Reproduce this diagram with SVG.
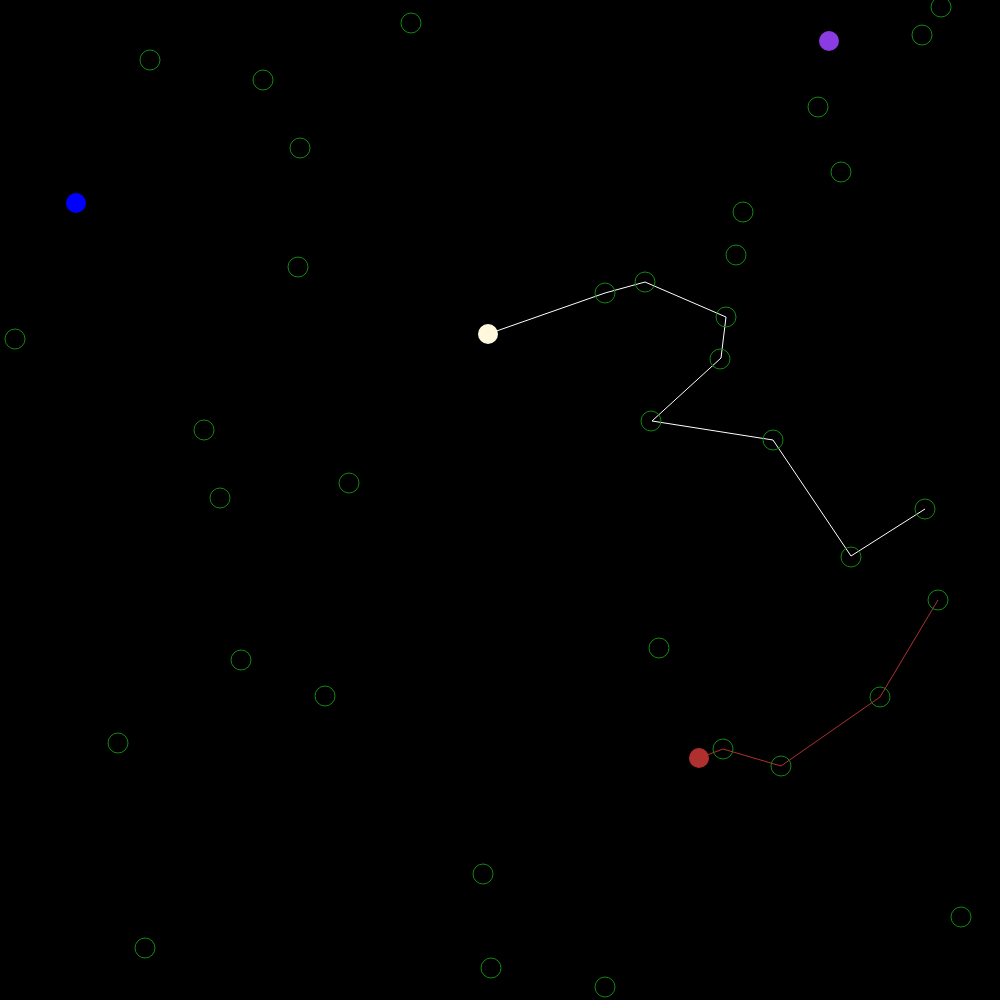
<svg xmlns="http://www.w3.org/2000/svg" width="1000" height="1000" viewBox="0 0 1000 1000">
<style>
.n{fill:none;stroke:#118A11;stroke-width:1}
.w{fill:none;stroke:#FFFFFF;stroke-width:1}
.r{fill:none;stroke:#B03030;stroke-width:1}
</style>
<rect x="0" y="0" width="1000" height="1000" fill="#000000"/>
<g id="connectors">
<polyline class="w" points="488,334 605,293 645,282 726,317 721,358 652,421 773,440 851,556 925,509"/>
<polyline class="r" points="699,758 723,749 781,766 880,697 938,600"/>
</g>
<g id="nodes">
<circle class="n" cx="411" cy="23" r="10"/>
<circle class="n" cx="150" cy="60" r="10"/>
<circle class="n" cx="263" cy="80" r="10"/>
<circle class="n" cx="300" cy="148" r="10"/>
<circle class="n" cx="298" cy="267" r="10"/>
<circle class="n" cx="15" cy="339" r="10"/>
<circle class="n" cx="204" cy="430" r="10"/>
<circle class="n" cx="220" cy="498" r="10"/>
<circle class="n" cx="349" cy="483" r="10"/>
<circle class="n" cx="241" cy="660" r="10"/>
<circle class="n" cx="325" cy="696" r="10"/>
<circle class="n" cx="118" cy="743" r="10"/>
<circle class="n" cx="145" cy="948" r="10"/>
<circle class="n" cx="483" cy="874" r="10"/>
<circle class="n" cx="491" cy="968" r="10"/>
<circle class="n" cx="605" cy="987" r="10"/>
<circle class="n" cx="659" cy="648" r="10"/>
<circle class="n" cx="961" cy="917" r="10"/>
<circle class="n" cx="941" cy="7" r="10"/>
<circle class="n" cx="922" cy="35" r="10"/>
<circle class="n" cx="818" cy="107" r="10"/>
<circle class="n" cx="841" cy="172" r="10"/>
<circle class="n" cx="743" cy="212" r="10"/>
<circle class="n" cx="736" cy="255" r="10"/>
<circle class="n" cx="605" cy="293" r="10"/>
<circle class="n" cx="645" cy="282" r="10"/>
<circle class="n" cx="726" cy="317" r="10"/>
<circle class="n" cx="720" cy="359" r="10"/>
<circle class="n" cx="651" cy="421" r="10"/>
<circle class="n" cx="773" cy="440" r="10"/>
<circle class="n" cx="851" cy="557" r="10"/>
<circle class="n" cx="925" cy="509" r="10"/>
<circle class="n" cx="723" cy="749" r="10"/>
<circle class="n" cx="781" cy="766" r="10"/>
<circle class="n" cx="880" cy="697" r="10"/>
<circle class="n" cx="938" cy="600" r="10"/>
</g>
<g id="markers">
<circle id="start-cream" cx="488" cy="334" r="10" fill="#FFF8DC"/>
<circle id="start-red" cx="699" cy="758" r="10" fill="#B03030"/>
<circle id="blue" cx="76" cy="203" r="10" fill="#0000FF"/>
<circle id="purple" cx="829" cy="41" r="10" fill="#8A3BE2"/>
</g>
</svg>
